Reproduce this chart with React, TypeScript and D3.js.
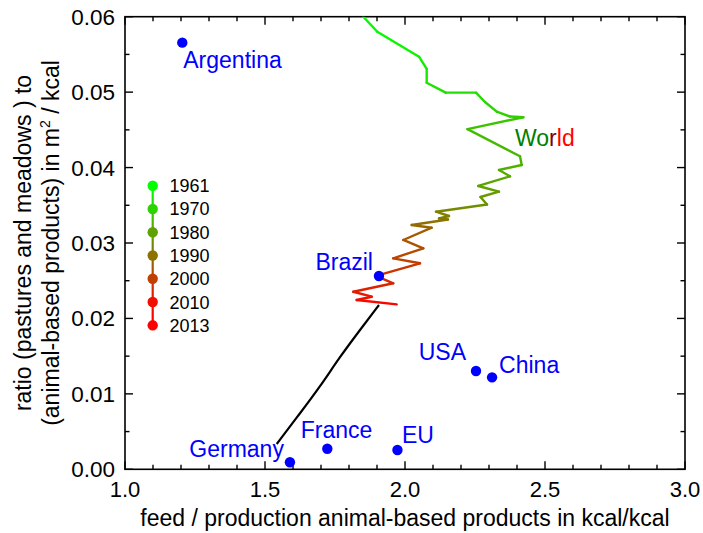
import React from "react";
import * as d3 from "d3";

// ---- data ----
const worldYears = [1961, 1962, 1964, 1965, 1966, 1967, 1968, 1969, 1970, 1971, 1972, 1974, 1976, 1977, 1978, 1979, 1980, 1981, 1982, 1983, 1986, 1987, 1988, 1989, 1991, 1993, 1995, 1997, 1999, 2001, 2003, 2005, 2007, 2009, 2011, 2013];
const worldX = [1.851, 1.901, 2.05, 2.0775, 2.0775, 2.1454, 2.2536, 2.2857, 2.3275, 2.375, 2.4225, 2.2232, 2.4107, 2.4168, 2.3357, 2.375, 2.2618, 2.3357, 2.2696, 2.2929, 2.1107, 2.1571, 2.1214, 2.1536, 2.0239, 2.0954, 1.9939, 2.0654, 1.9582, 2.0536, 1.8964, 1.9582, 1.8154, 1.8811, 1.8275, 1.9704];
const worldY = [0.06, 0.05801, 0.0547, 0.05307, 0.05125, 0.04993, 0.04993, 0.04869, 0.04741, 0.04677, 0.04667, 0.04509, 0.0415, 0.04034, 0.03968, 0.03884, 0.03756, 0.0368, 0.0361, 0.0351, 0.03415, 0.03358, 0.03325, 0.03312, 0.03239, 0.03203, 0.0304, 0.0293, 0.02797, 0.02731, 0.02563, 0.02466, 0.02354, 0.02288, 0.02244, 0.02187];

const projX = [1.9071, 1.8393, 1.7679, 1.6964, 1.625, 1.5418];
const projY = [0.02178, 0.01847, 0.01493, 0.01095, 0.00742, 0.00335];

const countries = ["Argentina", "Brazil", "USA", "China", "Germany", "France", "EU"];
const countryX = [1.2046, 1.907, 2.2536, 2.311, 1.589, 1.7225, 1.973];
const countryY = [0.05656, 0.02563, 0.01303, 0.01219, 0.00093, 0.00273, 0.00256];

const legendYears = [1961, 1970, 1980, 1990, 2000, 2010, 2013];
const xTicks = [1.0, 1.5, 2.0, 2.5, 3.0];
const yTicks = [0, 0.01, 0.02, 0.03, 0.04, 0.05, 0.06];

// ---- layout ----
const W = 703, H = 533;
const PL = 125, PR = 685, PT = 16.7, PB = 469.3;
const FONT = "'Liberation Sans', Arial, Helvetica, sans-serif";
const BLUE = "#0000ff";
const labelLayout: Record<string, { anchor: string; dx: number; dy: number }> = {
  Argentina: { anchor: "start", dx: 1, dy: 25 },
  Brazil: { anchor: "end", dx: -6, dy: -6 },
  USA: { anchor: "end", dx: -10, dy: -11 },
  China: { anchor: "start", dx: 7, dy: -4 },
  Germany: { anchor: "end", dx: -6, dy: -5 },
  France: { anchor: "start", dx: -26.6, dy: -11 },
  EU: { anchor: "start", dx: 4.6, dy: -6.7 },
};

export default function App() {
  const x = d3.scaleLinear().domain([1, 3]).range([PL, PR]);
  const y = d3.scaleLinear().domain([0, 0.06]).range([PB, PT]);
  const color = d3
    .scaleLinear<string>()
    .domain([1961, 2013])
    .range(["#00ff00", "#ff0000"])
    .interpolate(d3.interpolateRgb);

  const xMinor = d3.range(10, 31).map((v) => v / 10);
  const yMinor = d3.range(0, 13).map((v) => v * 0.005);

  const segs = worldX.slice(1).map((_, i) => ({
    x1: x(worldX[i]), y1: y(worldY[i]), x2: x(worldX[i + 1]), y2: y(worldY[i + 1]),
    c1: color(worldYears[i]), c2: color(worldYears[i + 1]), id: "g" + i,
  }));

  const projLine = d3
    .line<number>()
    .x((_, i) => x(projX[i]))
    .y((d) => y(d))
    .curve(d3.curveBasis);

  // legend
  const legX = 152.7, legTop = 185.7, legStep = 23.27;
  const legY = (i: number) => legTop + i * legStep;

  return (
    <svg width={W} height={H} style={{ position: "absolute", left: 0, top: 0, background: "#fff" }} fontFamily={FONT}>
      <defs>
        <clipPath id="plotclip">
          <rect x={PL} y={PT} width={PR - PL} height={PB - PT} />
        </clipPath>
        {segs.map((s) => (
          <linearGradient key={s.id} id={s.id} gradientUnits="userSpaceOnUse" x1={s.x1} y1={s.y1} x2={s.x2} y2={s.y2}>
            <stop offset="0" stopColor={s.c1} />
            <stop offset="1" stopColor={s.c2} />
          </linearGradient>
        ))}
        <linearGradient id="leggrad" gradientUnits="userSpaceOnUse" x1={legX} y1={legY(0)} x2={legX} y2={legY(6)}>
          {legendYears.map((yr, i) => (
            <stop key={yr} offset={i / 6} stopColor={color(yr)} />
          ))}
        </linearGradient>
      </defs>

      {/* frame */}
      <rect x={PL} y={PT} width={PR - PL} height={PB - PT} fill="none" stroke="#000" strokeWidth={1.6} />

      {/* ticks */}
      {xMinor.map((v) => {
        const major = Math.abs(v * 2 - Math.round(v * 2)) < 1e-6;
        const len = major ? 8 : 4.5;
        return (
          <g key={"xt" + v}>
            <line x1={x(v)} x2={x(v)} y1={PB} y2={PB - len} stroke="#000" strokeWidth={1.4} />
            <line x1={x(v)} x2={x(v)} y1={PT} y2={PT + len} stroke="#000" strokeWidth={1.4} />
          </g>
        );
      })}
      {yMinor.map((v, i) => {
        const len = i % 2 === 0 ? 8 : 4.5;
        return (
          <g key={"yt" + i}>
            <line x1={PL} x2={PL + len} y1={y(v)} y2={y(v)} stroke="#000" strokeWidth={1.4} />
            <line x1={PR} x2={PR - len} y1={y(v)} y2={y(v)} stroke="#000" strokeWidth={1.4} />
          </g>
        );
      })}
      {xTicks.map((v) => (
        <text key={"xl" + v} x={x(v)} y={497} textAnchor="middle" fontSize={22}>
          {v.toFixed(1)}
        </text>
      ))}
      {yTicks.map((v) => (
        <text key={"yl" + v} x={115} y={y(v) + 8} textAnchor="end" fontSize={22.5}>
          {v.toFixed(2)}
        </text>
      ))}

      {/* axis titles */}
      <text x={(PL + PR) / 2 - 0} y={526} textAnchor="middle" fontSize={23}>
        feed / production animal-based products in kcal/kcal
      </text>
      <g transform={`translate(30.5, ${(PT + PB) / 2}) rotate(-90)`}>
        <text x={0} y={0} textAnchor="middle" fontSize={23}>
          ratio (pastures and meadows ) to
        </text>
      </g>
      <g transform={`translate(58.5, ${(PT + PB) / 2}) rotate(-90)`}>
        <text x={0} y={0} textAnchor="middle" fontSize={23}>
          (animal-based products) in m
          <tspan fontSize={14} dy={-9}>2</tspan>
          <tspan dy={9}> / kcal</tspan>
        </text>
      </g>

      {/* world line */}
      <g clipPath="url(#plotclip)">
        {segs.map((s) => (
          <line key={s.id} x1={s.x1} y1={s.y1} x2={s.x2} y2={s.y2} stroke={`url(#${s.id})`} strokeWidth={2.4} strokeLinecap="round" />
        ))}
      </g>
      <path d={projLine(projY) || ""} fill="none" stroke="#000" strokeWidth={2.2} />

      {/* World label */}
      <text x={515} y={145.7} fontSize={23}>
        <tspan fill="#008000">Wo</tspan>
        <tspan fill="#800000">r</tspan>
        <tspan fill="#ff0000">ld</tspan>
      </text>

      {/* countries */}
      {countries.map((c, i) => {
        const cx = x(countryX[i]);
        const cy = y(countryY[i]);
        const L = labelLayout[c];
        return (
          <g key={c}>
            <circle cx={cx} cy={cy} r={5.2} fill={BLUE} />
            <text x={cx + L.dx} y={cy + L.dy} textAnchor={L.anchor as any} fontSize={23} fill={BLUE}>
              {c}
            </text>
          </g>
        );
      })}

      {/* legend */}
      <line x1={legX} x2={legX} y1={legY(0)} y2={legY(6)} stroke="url(#leggrad)" strokeWidth={2.2} />
      {legendYears.map((yr, i) => (
        <g key={"lg" + yr}>
          <circle cx={legX} cy={legY(i)} r={5.2} fill={color(yr)} />
          <text x={169.5} y={legY(i) + 6.5} fontSize={18}>
            {yr}
          </text>
        </g>
      ))}
    </svg>
  );
}
